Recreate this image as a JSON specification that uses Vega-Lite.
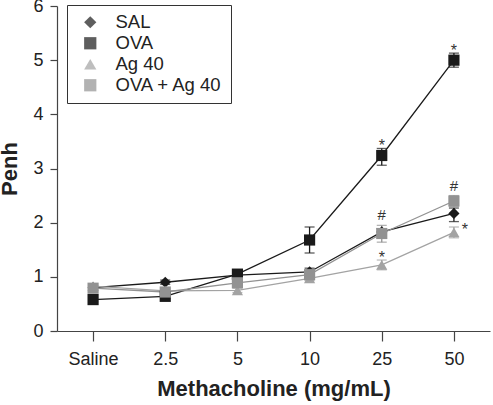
{
  "$schema": "https://vega.github.io/schema/vega-lite/v6.json",
  "width": 433,
  "height": 325,
  "autosize": {"type": "none"},
  "padding": {"left": 57, "top": 6, "right": 3, "bottom": 74},
  "background": "white",
  "config": {
    "view": {"stroke": null},
    "font": "Liberation Sans",
    "axis": {
      "grid": false,
      "domainColor": "#444444",
      "domainWidth": 1.2,
      "tickColor": "#444444",
      "tickWidth": 1.2,
      "labelColor": "#222222",
      "titleColor": "#222222",
      "labelFontSize": 18,
      "titleFontSize": 22,
      "titleFontWeight": "bold",
      "labelFont": "Liberation Sans",
      "titleFont": "Liberation Sans"
    }
  },
  "datasets": {
    "penh": [
      {"dose": "Saline", "group": "SAL", "penh": 0.80, "lo": 0.76, "hi": 0.84},
      {"dose": "2.5", "group": "SAL", "penh": 0.90, "lo": 0.86, "hi": 0.94},
      {"dose": "5", "group": "SAL", "penh": 1.03, "lo": 0.99, "hi": 1.07},
      {"dose": "10", "group": "SAL", "penh": 1.09, "lo": 1.02, "hi": 1.16},
      {"dose": "25", "group": "SAL", "penh": 1.83, "lo": 1.77, "hi": 1.89},
      {"dose": "50", "group": "SAL", "penh": 2.17, "lo": 2.02, "hi": 2.27},
      {"dose": "Saline", "group": "OVA", "penh": 0.58, "lo": 0.54, "hi": 0.62},
      {"dose": "2.5", "group": "OVA", "penh": 0.64, "lo": 0.60, "hi": 0.68},
      {"dose": "5", "group": "OVA", "penh": 1.05, "lo": 1.00, "hi": 1.10},
      {"dose": "10", "group": "OVA", "penh": 1.68, "lo": 1.44, "hi": 1.92},
      {"dose": "25", "group": "OVA", "penh": 3.24, "lo": 3.06, "hi": 3.37},
      {"dose": "50", "group": "OVA", "penh": 5.00, "lo": 4.87, "hi": 5.13},
      {"dose": "Saline", "group": "Ag 40", "penh": 0.83, "lo": 0.79, "hi": 0.87},
      {"dose": "2.5", "group": "Ag 40", "penh": 0.74, "lo": 0.70, "hi": 0.78},
      {"dose": "5", "group": "Ag 40", "penh": 0.75, "lo": 0.71, "hi": 0.79},
      {"dose": "10", "group": "Ag 40", "penh": 0.97, "lo": 0.93, "hi": 1.01},
      {"dose": "25", "group": "Ag 40", "penh": 1.22, "lo": 1.13, "hi": 1.31},
      {"dose": "50", "group": "Ag 40", "penh": 1.82, "lo": 1.72, "hi": 1.92},
      {"dose": "Saline", "group": "OVA + Ag 40", "penh": 0.79, "lo": 0.75, "hi": 0.83},
      {"dose": "2.5", "group": "OVA + Ag 40", "penh": 0.72, "lo": 0.68, "hi": 0.76},
      {"dose": "5", "group": "OVA + Ag 40", "penh": 0.89, "lo": 0.85, "hi": 0.93},
      {"dose": "10", "group": "OVA + Ag 40", "penh": 1.04, "lo": 1.00, "hi": 1.08},
      {"dose": "25", "group": "OVA + Ag 40", "penh": 1.80, "lo": 1.64, "hi": 1.95},
      {"dose": "50", "group": "OVA + Ag 40", "penh": 2.40, "lo": 2.30, "hi": 2.50}
    ],
    "notes": [
      {"dose": "25", "y": 3.37, "label": "*", "kind": "above"},
      {"dose": "50", "y": 5.13, "label": "*", "kind": "above"},
      {"dose": "25", "y": 1.31, "label": "*", "kind": "above"},
      {"dose": "25", "y": 1.95, "label": "#", "kind": "above"},
      {"dose": "50", "y": 2.50, "label": "#", "kind": "above"},
      {"dose": "50", "y": 1.92, "label": "*", "kind": "right"}
    ]
  },
  "layer": [
    {
      "data": {"name": "penh"},
      "mark": {"type": "line", "strokeWidth": 1.3},
      "encoding": {
        "x": {"field": "dose", "type": "ordinal", "sort": ["Saline", "2.5", "5", "10", "25", "50"],
              "scale": {"type": "point", "padding": 0.5},
              "axis": {"title": "Methacholine (mg/mL)", "labelAngle": 0, "tickSize": 10, "labelPadding": 9, "titlePadding": 10}},
        "y": {"field": "penh", "type": "quantitative", "title": "Penh",
              "scale": {"domain": [0, 6], "nice": false},
              "axis": {"title": "Penh", "values": [0, 1, 2, 3, 4, 5, 6], "format": "d", "tickSize": 7, "labelPadding": 7, "titlePadding": 11}},
        "color": {"field": "group", "type": "nominal",
                  "scale": {"domain": ["SAL", "OVA", "Ag 40", "OVA + Ag 40"], "range": ["#1a1a1a", "#1a1a1a", "#a3a3a3", "#929292"]}},
        "order": {"value": null}
      }
    },
    {
      "data": {"name": "penh"},
      "mark": {"type": "errorbar", "ticks": {"size": 10}, "thickness": 1.3},
      "encoding": {
        "x": {"field": "dose", "type": "ordinal", "sort": ["Saline", "2.5", "5", "10", "25", "50"]},
        "y": {"field": "lo", "type": "quantitative", "title": "Penh"},
        "y2": {"field": "hi"},
        "color": {"field": "group", "type": "nominal"}
      }
    },
    {
      "data": {"name": "penh"},
      "mark": {"type": "point", "filled": true, "size": 125, "opacity": 1},
      "encoding": {
        "x": {"field": "dose", "type": "ordinal", "sort": ["Saline", "2.5", "5", "10", "25", "50"]},
        "y": {"field": "penh", "type": "quantitative", "title": "Penh"},
        "color": {"field": "group", "type": "nominal",
                  "legend": {"title": null, "orient": "none", "legendX": 10, "legendY": -1,
                             "strokeColor": "#333333", "fillColor": "white", "padding": 8,
                             "labelFontSize": 18.5, "labelColor": "#222222", "labelFont": "Liberation Sans",
                             "symbolSize": 150, "symbolOpacity": 1, "symbolStrokeWidth": 0,
                             "symbolOffset": 6, "labelOffset": 16, "rowPadding": 2}},
        "shape": {"field": "group", "type": "nominal",
                  "scale": {"domain": ["SAL", "OVA", "Ag 40", "OVA + Ag 40"], "range": ["diamond", "square", "triangle-up", "square"]},
                  "legend": null}
      }
    },
    {
      "data": {"name": "notes"},
      "transform": [{"filter": "datum.kind === 'above' && datum.label === '*'"}],
      "mark": {"type": "text", "fontSize": 16, "color": "#333333", "baseline": "alphabetic", "align": "center", "dy": 3},
      "encoding": {
        "x": {"field": "dose", "type": "ordinal", "sort": ["Saline", "2.5", "5", "10", "25", "50"]},
        "y": {"field": "y", "type": "quantitative", "title": "Penh"},
        "text": {"field": "label"}
      }
    },
    {
      "data": {"name": "notes"},
      "transform": [{"filter": "datum.kind === 'above' && datum.label === '#'"}],
      "mark": {"type": "text", "fontSize": 15, "color": "#333333", "baseline": "alphabetic", "align": "center", "dy": -5},
      "encoding": {
        "x": {"field": "dose", "type": "ordinal", "sort": ["Saline", "2.5", "5", "10", "25", "50"]},
        "y": {"field": "y", "type": "quantitative", "title": "Penh"},
        "text": {"field": "label"}
      }
    },
    {
      "data": {"name": "notes"},
      "transform": [{"filter": "datum.kind === 'right'"}],
      "mark": {"type": "text", "fontSize": 16, "color": "#333333", "baseline": "alphabetic", "align": "center", "dx": 11, "dy": 8},
      "encoding": {
        "x": {"field": "dose", "type": "ordinal", "sort": ["Saline", "2.5", "5", "10", "25", "50"]},
        "y": {"field": "y", "type": "quantitative", "title": "Penh"},
        "text": {"field": "label"}
      }
    }
  ]
}
